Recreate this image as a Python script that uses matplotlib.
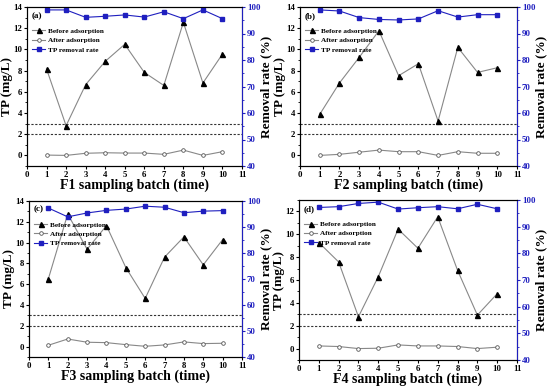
import matplotlib
matplotlib.use("Agg")
import matplotlib.pyplot as plt
from matplotlib.ticker import MultipleLocator
import numpy as np

batch = [1, 2, 3, 4, 5, 6, 7, 8, 9, 10]

before_a = [8.15, 2.8, 6.67, 8.87, 10.48, 7.83, 6.6, 12.55, 6.83, 9.56]
after_a = [0.03, 0.0, 0.2, 0.25, 0.22, 0.22, 0.1, 0.5, 0.0, 0.35]
rate_a = [98.9, 98.9, 96.1, 96.5, 97.0, 96.2, 98.2, 95.6, 98.9, 95.6]

before_b = [3.87, 6.83, 9.25, 11.76, 7.52, 8.65, 3.24, 10.19, 7.83, 8.27]
after_b = [0.0, 0.1, 0.3, 0.5, 0.35, 0.35, 0.0, 0.35, 0.2, 0.2]
rate_b = [98.9, 98.5, 96.0, 95.3, 95.1, 95.5, 98.6, 96.2, 97.1, 97.1]

before_c = [6.52, 12.75, 9.36, 11.63, 7.6, 4.63, 8.6, 10.55, 7.86, 10.29]
after_c = [0.13, 0.73, 0.42, 0.38, 0.19, 0.03, 0.16, 0.45, 0.29, 0.32]
rate_c = [97.3, 93.9, 95.4, 96.4, 96.9, 98.0, 97.6, 95.5, 96.1, 96.3]

before_d = [9.28, 7.58, 2.78, 6.29, 10.45, 8.78, 11.53, 6.85, 2.93, 4.8]
after_d = [0.23, 0.18, 0.0, 0.03, 0.32, 0.23, 0.23, 0.18, 0.0, 0.12]
rate_d = [97.2, 97.5, 98.7, 99.2, 96.6, 97.1, 97.5, 96.7, 98.4, 96.7]

panels = [
    ("(a)", "F1 sampling batch (time)", before_a, after_a, rate_a, 14, [27, 242, 7, 166]),
    ("(b)", "F2 sampling batch (time)", before_b, after_b, rate_b, 14, [300, 517, 7, 166]),
    ("(c)", "F3 sampling batch (time)", before_c, after_c, rate_c, 14, [29, 242, 201, 357]),
    ("(d)", "F4 sampling batch (time)", before_d, after_d, rate_d, 13, [299, 517, 200, 360]),
]

plt.rcParams['font.family'] = ['Liberation Serif', 'DejaVu Serif']
plt.rcParams['font.weight'] = 'bold'

W, H = 550, 391
fig = plt.figure(figsize=(5.5, 3.91), dpi=100)
blue = '#1f1fbf'
gray = '#888888'

for tag, xlabel, before, after, rate, ytop, (l, r, t, b) in panels:
    ax = fig.add_axes([l / W, 1 - b / H, (r - l) / W, (b - t) / H])
    ax.axhline(3, color='#333333', ls=(0, (2, 1.5)), lw=0.8)
    ax.axhline(2, color='#333333', ls=(0, (2, 1.5)), lw=0.8)
    ax.plot(batch, before, color=gray, lw=0.8, marker='^', ms=3.6, mfc='black', mec='black',
            label='Before adsorption')
    ax.plot(batch, after, color=gray, lw=0.8, marker='o', ms=2.6, mfc='white', mec='#555555',
            mew=0.6, label='After adsorption')
    ax.set_xlim(0, 11)
    ax.set_ylim(-1, ytop)
    ax.xaxis.set_major_locator(MultipleLocator(1))
    ax.yaxis.set_major_locator(MultipleLocator(2))
    ax.yaxis.set_minor_locator(MultipleLocator(1))
    ax.tick_params(axis='both', which='major', labelsize=6.3, length=2.5, width=0.8, pad=1)
    ax.tick_params(axis='y', which='minor', length=1.5, width=0.6)
    for lab in ax.get_xticklabels() + ax.get_yticklabels():
        lab.set_fontweight('bold')
    ax.set_xlabel(xlabel, fontsize=10, fontweight='bold', labelpad=0)
    ax.set_ylabel('TP (mg/L)', fontsize=9.5, fontweight='bold', labelpad=0)
    ax.text(0.02, 0.97, tag, transform=ax.transAxes, fontsize=6.5, fontweight='bold',
            va='top', ha='left')

    ax2 = ax.twinx()
    ax2.plot(batch, rate, color=blue, lw=0.8, marker='s', ms=3.0, mfc=blue, mec=blue,
             label='TP removal rate')
    ax2.set_ylim(40, 100)
    ax2.yaxis.set_major_locator(MultipleLocator(10))
    ax2.yaxis.set_minor_locator(MultipleLocator(5))
    ax2.spines['right'].set_color(blue)
    ax2.tick_params(axis='y', which='major', colors=blue, labelsize=6.3, length=2.5, width=0.8, pad=1)
    ax2.tick_params(axis='y', which='minor', colors=blue, length=1.5, width=0.6)
    for lab in ax2.get_yticklabels():
        lab.set_fontweight('bold')
    ax2.set_ylabel('Removal rate (%)', fontsize=9.5, fontweight='bold', labelpad=0)

    h1, l1 = ax.get_legend_handles_labels()
    h2, l2 = ax2.get_legend_handles_labels()
    ax.legend(h1 + h2, l1 + l2, loc='upper left', bbox_to_anchor=(0.0, 0.9),
              frameon=False, prop={'size': 5.2, 'weight': 'bold'}, handlelength=1.8,
              handletextpad=0.4, labelspacing=0.45, borderpad=0.2)

fig.savefig('out.png', dpi=100)
